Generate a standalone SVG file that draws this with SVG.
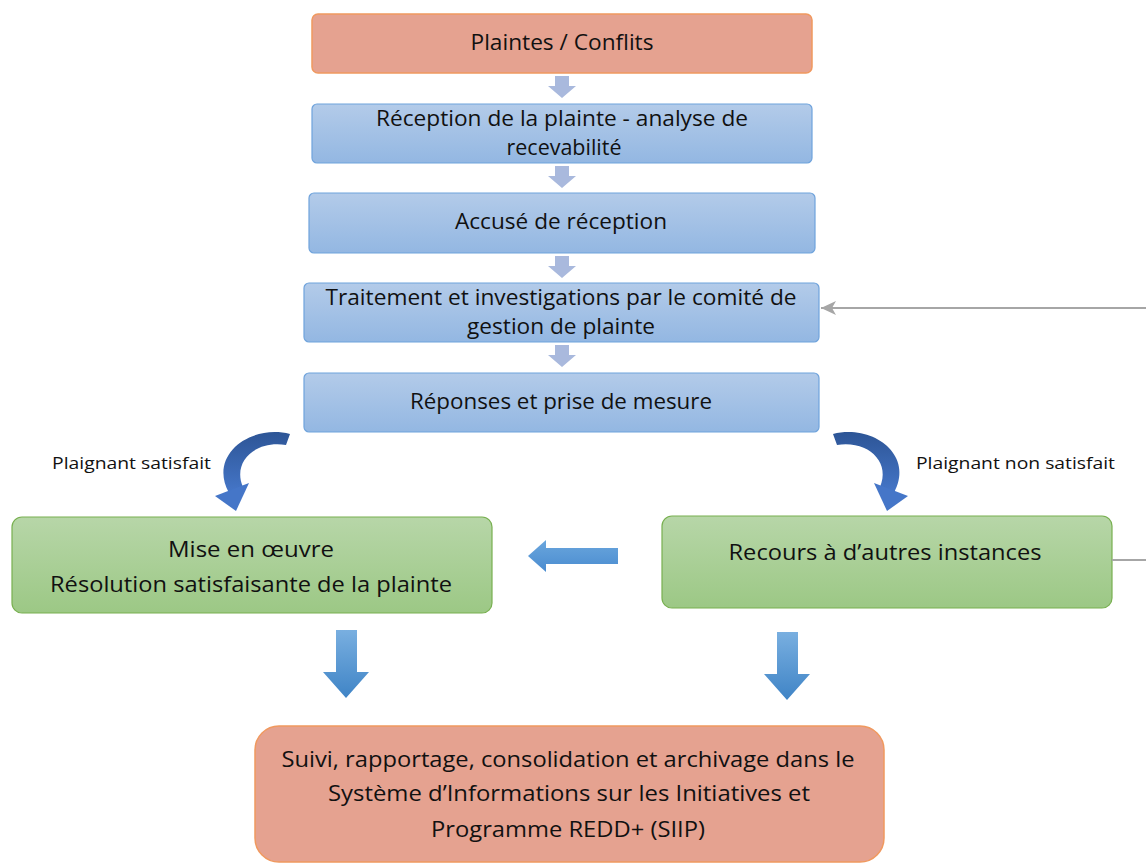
<svg xmlns="http://www.w3.org/2000/svg" width="1146" height="863" viewBox="0 0 1146 863">
<defs>
<linearGradient id="gBlue" x1="0" y1="0" x2="0" y2="1"><stop offset="0" stop-color="#b3cbe9"/><stop offset="1" stop-color="#93b7e2"/></linearGradient>
<linearGradient id="gGreen" x1="0" y1="0" x2="0" y2="1"><stop offset="0" stop-color="#b7d6a8"/><stop offset="1" stop-color="#9cc885"/></linearGradient>
<linearGradient id="gArrow" x1="0" y1="0" x2="0" y2="1"><stop offset="0" stop-color="#79afe0"/><stop offset="1" stop-color="#3f84c6"/></linearGradient>
<linearGradient id="gArrowH" x1="0" y1="0" x2="0" y2="1"><stop offset="0" stop-color="#6aa6dd"/><stop offset="1" stop-color="#4a8cd0"/></linearGradient>
<linearGradient id="gCurve" x1="0" y1="0" x2="0" y2="1"><stop offset="0" stop-color="#2d5596"/><stop offset="1" stop-color="#4576c8"/></linearGradient>
<marker id="mGray" markerWidth="16" markerHeight="14" refX="15" refY="7" orient="auto" markerUnits="userSpaceOnUse"><path d="M15,7 L0,0 L4,7 L0,14 Z" fill="#a6a6a6"/></marker>
<symbol id="smallArrow" overflow="visible"><path d="M-7,0 H7 V10 H14 L0,22 L-14,10 H-7 Z" fill="#a9b9dd"/></symbol>
</defs>
<style>
.blue{fill:url(#gBlue);stroke:#6fa3dc;stroke-width:1.2}
.green{fill:url(#gGreen);stroke:#78b050;stroke-width:1.2}
.orange{fill:#e5a290;stroke:#f0995f;stroke-width:1.5}
.t{font-family:"Open Sans","Liberation Sans",sans-serif;font-size:22px;fill:#111;text-anchor:middle}
.lbl{font-family:"Open Sans","Liberation Sans",sans-serif;font-size:17px;fill:#111}
.gray{stroke:#a6a6a6;stroke-width:2;fill:none}
</style>
<rect width="1146" height="863" fill="#fff"/>

<g id="n1"><rect class="orange" x="312" y="14" width="500" height="59" rx="6"/><text class="t" x="562" y="50" textLength="183" lengthAdjust="spacingAndGlyphs">Plaintes / Conflits</text></g>
<g id="n2"><rect class="blue" x="312" y="104" width="500" height="59" rx="5"/><text class="t" x="562" y="126" textLength="372" lengthAdjust="spacingAndGlyphs">Réception de la plainte - analyse de</text><text class="t" x="564" y="155" textLength="115" lengthAdjust="spacingAndGlyphs">recevabilité</text></g>
<g id="n3"><rect class="blue" x="309" y="193" width="506" height="60" rx="5"/><text class="t" x="561" y="229" textLength="212" lengthAdjust="spacingAndGlyphs">Accusé de réception</text></g>
<g id="n4"><rect class="blue" x="304" y="283" width="515" height="59" rx="5"/><text class="t" x="561" y="305" textLength="471" lengthAdjust="spacingAndGlyphs">Traitement et investigations par le comité de</text><text class="t" x="561" y="334" textLength="188" lengthAdjust="spacingAndGlyphs">gestion de plainte</text></g>
<g id="n5"><rect class="blue" x="304" y="373" width="515" height="59" rx="5"/><text class="t" x="561" y="409" textLength="302" lengthAdjust="spacingAndGlyphs">Réponses et prise de mesure</text></g>
<g id="n6"><rect class="green" x="12" y="517" width="480" height="96" rx="10"/><text class="t" x="251" y="557" textLength="166" lengthAdjust="spacingAndGlyphs">Mise en œuvre</text><text class="t" x="251" y="592" textLength="402" lengthAdjust="spacingAndGlyphs">Résolution satisfaisante de la plainte</text></g>
<g id="n7"><rect class="green" x="662" y="516" width="450" height="92" rx="10"/><text class="t" x="885" y="560" textLength="313" lengthAdjust="spacingAndGlyphs">Recours à d’autres instances</text></g>
<g id="n8"><rect class="orange" x="255" y="726" width="629" height="136" rx="24"/><text class="t" x="568" y="767" textLength="573" lengthAdjust="spacingAndGlyphs">Suivi, rapportage, consolidation et archivage dans le</text><text class="t" x="569" y="801" textLength="482" lengthAdjust="spacingAndGlyphs">Système d’Informations sur les Initiatives et</text><text class="t" x="568" y="837" textLength="274" lengthAdjust="spacingAndGlyphs">Programme REDD+ (SIIP)</text></g>

<g id="labels">
<text class="lbl" x="52" y="469" textLength="159" lengthAdjust="spacingAndGlyphs">Plaignant satisfait</text>
<text class="lbl" x="916" y="469" textLength="199" lengthAdjust="spacingAndGlyphs">Plaignant non satisfait</text>
</g>

<g id="connectors">
<use href="#smallArrow" x="562" y="76"/>
<use href="#smallArrow" x="562" y="166"/>
<use href="#smallArrow" x="562" y="256"/>
<use href="#smallArrow" x="562" y="345"/>
<path d="M618,548 H546 V540 L528,556 L546,572 V564 H618 Z" fill="url(#gArrowH)"/>
<path d="M336,630 H357 V672 H369 L346,698 L323,672 H336 Z" fill="url(#gArrow)"/>
<path d="M777,632 H798 V674 H810 L787,700 L764,674 H777 Z" fill="url(#gArrow)"/>
<g id="curveL">
<path d="M290,434 C250,424 208,455 229,493 L243,487 C232,462 255,440 286,445 Z" fill="url(#gCurve)"/>
<path d="M215,496 L249,483 L236,511 Z" fill="#4576c8"/>
</g>
<g id="curveR" transform="translate(1123,0) scale(-1,1)">
<path d="M290,434 C250,424 208,455 229,493 L243,487 C232,462 255,440 286,445 Z" fill="url(#gCurve)"/>
<path d="M215,496 L249,483 L236,511 Z" fill="#4576c8"/>
</g>
<line class="gray" x1="1112" y1="560" x2="1146" y2="560"/>
<line class="gray" x1="1146" y1="308" x2="821" y2="308" marker-end="url(#mGray)"/>
</g>
</svg>
